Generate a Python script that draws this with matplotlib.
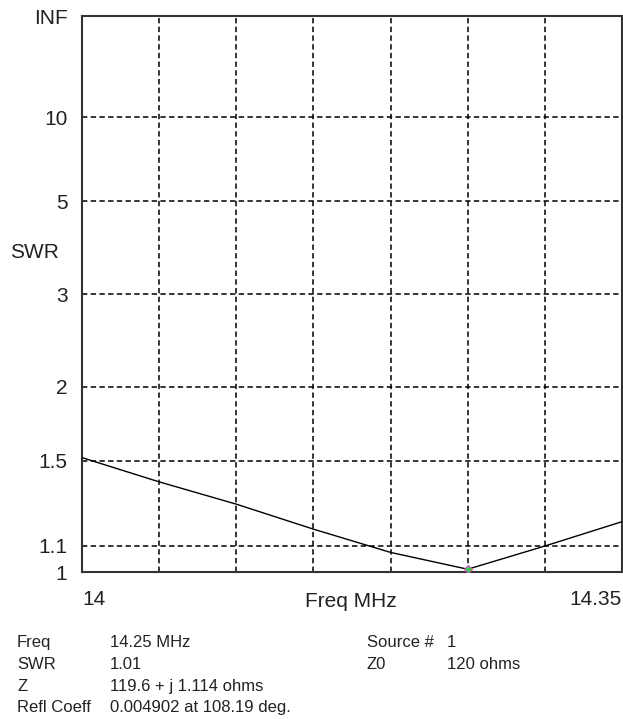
import numpy as np
import matplotlib
matplotlib.use("Agg")
import matplotlib.pyplot as plt

plt.rcParams['font.family'] = ['Liberation Sans', 'DejaVu Sans']

# SWR sweep
freq = [14.0, 14.05, 14.1, 14.15, 14.2, 14.25, 14.3, 14.35]
swr = [1.518, 1.387, 1.278, 1.167, 1.073, 1.01, 1.098, 1.199]

# y scale is reflection coefficient, labelled in SWR
swr_ticks = [1, 1.1, 1.5, 2, 3, 5, 10]
swr_labels = ['1', '1.1', '1.5', '2', '3', '5', '10']
x_grid = [14.05, 14.1, 14.15, 14.2, 14.25, 14.3]

marker_freq = 14.25
marker_swr = 1.01

info_left = [('Freq', '14.25 MHz'), ('SWR', '1.01'),
             ('Z', '119.6 + j 1.114 ohms'),
             ('Refl Coeff', '0.004902 at 108.19 deg.')]
info_right = [('Source #', '1'), ('Z0', '120 ohms')]


def gamma(s):
    s = np.asarray(s, dtype=float)
    return (s - 1) / (s + 1)


W, H = 623, 719
fig = plt.figure(figsize=(W / 100, H / 100), dpi=100)
ax = fig.add_axes([82 / W, 1 - 572 / H, 540 / W, 556 / H])

ax.plot(freq, gamma(swr), color='black', lw=1.0, zorder=3)
ax.plot([marker_freq], gamma([marker_swr]), marker='D', ms=4,
        mfc='#22dd22', mec='#ee44ee', mew=0.8, ls='none', zorder=4)

ax.set_xlim(14.0, 14.35)
ax.set_ylim(0, 1)

gs = (0, (3.5, 2.2))
for g in gamma(swr_ticks[1:]):
    ax.axhline(g, color='black', lw=1.1, ls=gs, zorder=1)
for f in x_grid:
    ax.axvline(f, color='black', lw=1.1, ls=gs, zorder=1)

txt = '#222222'
ax.set_yticks(list(gamma(swr_ticks)) + [1.0])
ax.set_yticklabels(swr_labels + ['INF'])
ax.set_xticks([14.0, 14.35])
xt = ax.set_xticklabels(['14', '14.35'])
xt[0].set_horizontalalignment('left')
xt[1].set_horizontalalignment('right')
ax.tick_params(length=0, labelsize=15, colors=txt)
ax.tick_params(axis='y', pad=10.5)
ax.tick_params(axis='x', pad=13)

for side in ['left', 'bottom', 'top', 'right']:
    ax.spines[side].set_linewidth(1.5)
    ax.spines[side].set_color('#333333')

fig.text(351 / W, 1 - 607 / H, 'Freq MHz', ha='center', va='baseline',
         fontsize=15, color=txt)
fig.text(10 / W, 1 - 250 / H, 'SWR', ha='left', va='center_baseline',
         fontsize=15, color=txt)

row_y = [647, 669, 691, 712]
for (k, v), y in zip(info_left, row_y):
    fig.text(17 / W, 1 - y / H, k, ha='left', va='baseline', fontsize=12,
             color=txt)
    fig.text(110 / W, 1 - y / H, v, ha='left', va='baseline', fontsize=12,
             color=txt)
for (k, v), y in zip(info_right, row_y):
    fig.text(367 / W, 1 - y / H, k, ha='left', va='baseline', fontsize=12,
             color=txt)
    fig.text(447 / W, 1 - y / H, v, ha='left', va='baseline', fontsize=12,
             color=txt)

fig.savefig('out.png', dpi=100)
